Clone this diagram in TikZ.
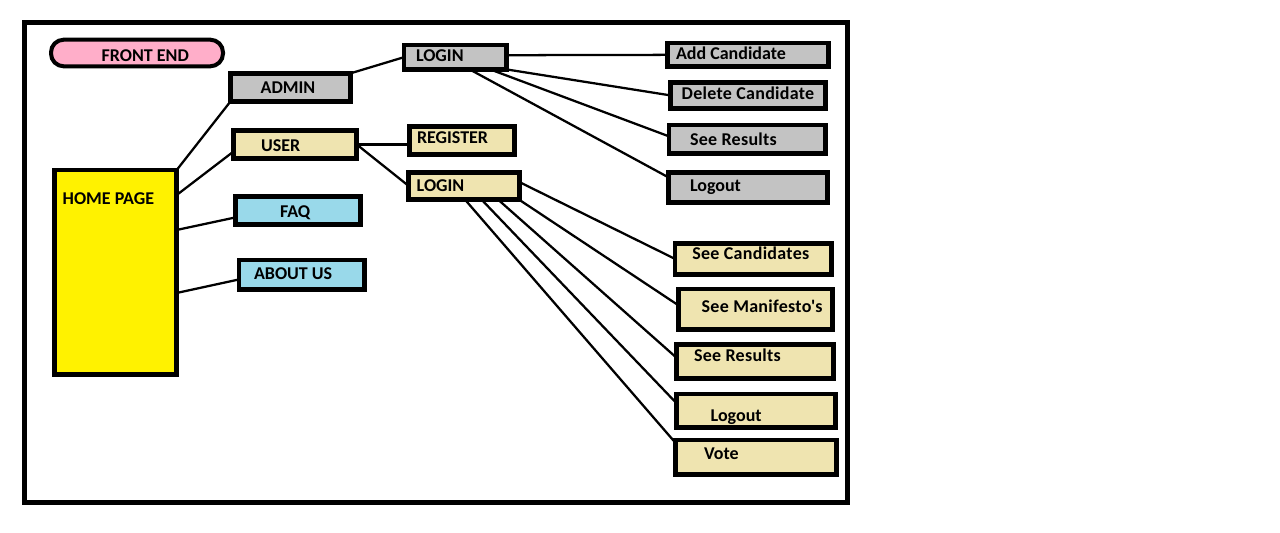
\documentclass[tikz,border=0pt]{standalone}
\usepackage{fontspec}
\setmainfont{Carlito}[Ligatures=TeXOff]
\usetikzlibrary{calc}
\definecolor{pgray}{HTML}{C3C3C3}
\definecolor{ptan}{HTML}{EFE4B0}
\definecolor{pyellow}{HTML}{FFF200}
\definecolor{pblue}{HTML}{99D9EA}
\definecolor{ppink}{HTML}{FFAEC9}
\tikzset{
  bx/.style={draw=black, line width=3.4pt, inner sep=0pt, outer sep=0pt},
  tx/.style={anchor=base west, inner sep=0pt, outer sep=0pt, font=\bfseries\fontsize{13.5}{15}\selectfont},
  wide/.style={font=\bfseries\fontsize{13.5}{15}\selectfont\addfontfeature{LetterSpace=1.6}},
  cn/.style={draw=black, line width=1.7pt, line cap=round}
}
\newcommand\pbx[6]{%
  \node[bx, fill=#6, minimum width={(#4-#2-4.5)*0.75pt}, minimum height={(#5-#3-4.5)*0.75pt}] (#1) at ({(#2+#4)/2},{(#3+#5)/2}) {};}
\newcommand\ptx[5][]{\node[tx,#1] (#2) at (#3,#4) {#5};}
\begin{document}
\begin{tikzpicture}[x=0.75pt,y=-0.75pt]
\useasboundingbox[fill=white] (0,0) rectangle (1280,532);
% outer frame
\draw[line width=3.4pt] (24.7,22.5) rectangle (847.5,502.5);
% front end pill
\node[bx, line width=3pt, fill=ppink, rounded corners=9.5pt, minimum width={(225-49-4)*0.75pt}, minimum height={(68.3-37.7-4)*0.75pt}] (front) at (137,53) {};
% boxes
\pbx{admin}{228}{71}{353}{104}{pgray}
\pbx{user}{231}{128}{359}{161}{ptan}
\pbx{home}{52}{167.7}{179}{376.7}{pyellow}
\pbx{faq}{233}{194}{363}{226.7}{pblue}
\pbx{about}{236.7}{257.7}{367}{291.7}{pblue}
\pbx{alogin}{401.7}{42.7}{509}{71.7}{pgray}
\pbx{addcand}{665}{40.7}{830.7}{69}{pgray}
\pbx{delcand}{668}{80}{828}{110.7}{pgray}
\pbx{ares}{666.7}{122.7}{828}{156}{pgray}
\pbx{alogout}{666}{170}{830}{205}{pgray}
\pbx{register}{407.3}{124.3}{516.7}{156.7}{ptan}
\pbx{ulogin}{406.5}{170}{521.5}{202}{ptan}
\pbx{seecand}{672.7}{241}{834}{276.7}{ptan}
\pbx{manif}{676}{286.7}{835}{331.7}{ptan}
\pbx{ures}{674}{342.3}{836}{380.7}{ptan}
\pbx{ulogout}{674}{391.7}{837.7}{430}{ptan}
\pbx{vote}{673.3}{437.7}{839}{476.7}{ptan}
% texts
\ptx{t-front}{101.7}{61}{FRONT END}
\ptx{t-admin}{260.7}{93}{ADMIN}
\ptx{t-user}{261}{151.5}{USER}
\ptx{t-home}{62.7}{204.5}{HOME PAGE}
\ptx{t-faq}{280}{217}{FAQ}
\ptx{t-about}{254}{279.8}{ABOUT US}
\ptx{t-alogin}{416}{61.5}{LOGIN}
\ptx{t-addcand}{676}{59.5}{Add Candidate}
\ptx[wide]{t-delcand}{681.7}{99}{Delete Candidate}
\ptx[wide]{t-ares}{690}{145}{See Results}
\ptx{t-alogout}{690}{191.8}{Logout}
\ptx{t-register}{417}{143.5}{REGISTER}
\ptx{t-ulogin}{416.7}{191}{LOGIN}
\ptx[wide]{t-seecand}{692.3}{259}{See Candidates}
\ptx[wide]{t-manif}{701.7}{312}{See Manifesto's}
\ptx[wide]{t-ures}{694}{361.8}{See Results}
\ptx{t-ulogout}{710.7}{421.8}{Logout}
\ptx{t-vote}{704}{459}{Vote}
% connectors
\draw[cn] (home.north east) -- (admin.south west);
\draw[cn] ($(home.north east)+(0,25)$) -- ($(user.south west)+(0,-7)$);
\draw[cn] ($(home.north east)+(0,60)$) -- ($(faq.south west)+(0,-7)$);
\draw[cn] ($(home.north east)+(0,123)$) -- ($(about.south west)+(0,-10)$);
\draw[cn] (admin.north east) -- (alogin.west);
\draw[cn] (user.east) -- (user.east -| register.west);
\draw[cn] (user.east) -- (ulogin.west);
\draw[cn] ($(alogin.east)+(0,-2)$) -- (addcand.west);
\draw[cn] (alogin.south east) -- (delcand.west);
\draw[cn] ($(alogin.south west)!0.84!(alogin.south east)$) -- ($(ares.west)+(0,-3)$);
\draw[cn] ($(alogin.south west)!0.64!(alogin.south east)$) -- ($(alogout.north west)+(0,5)$);
\draw[cn] ($(ulogin.east)+(0,-4)$) -- (seecand.west);
\draw[cn] (ulogin.south east) -- ($(manif.west)+(0,-4)$);
\draw[cn] ($(ulogin.south west)!0.81!(ulogin.south east)$) -- ($(ures.west)+(0,-4)$);
\draw[cn] ($(ulogin.south west)!0.66!(ulogin.south east)$) -- ($(ulogout.north west)+(0,9)$);
\draw[cn] ($(ulogin.south west)!0.51!(ulogin.south east)$) -- ($(vote.north west)+(0,3)$);
\end{tikzpicture}
\end{document}
